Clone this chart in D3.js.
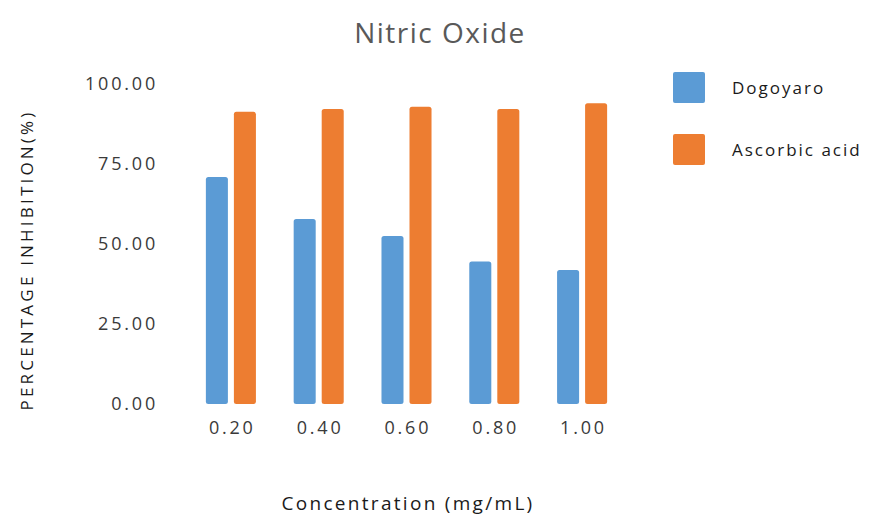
<!DOCTYPE html>
<html>
<head>
<meta charset="utf-8">
<script src="https://cdn.jsdelivr.net/npm/d3@7"></script>
<style>
  body { margin: 0; background: #fff; }
  text { font-family: "Open Sans", "Noto Sans", sans-serif; }
</style>
</head>
<body>
<svg id="chart" width="872" height="519"></svg>
<script>
const categories = ["0.20", "0.40", "0.60", "0.80", "1.00"];
const seriesNames = ["Dogoyaro", "Ascorbic acid"];
const dogoyaro = [70.9, 57.8, 52.5, 44.5, 41.9];
const ascorbic = [91.3, 92.2, 92.9, 92.2, 94.0];
const yTicks = [0, 25, 50, 75, 100];
const colors = ["#5B9BD5", "#ED7D31"];

const values = [dogoyaro, ascorbic];
const svg = d3.select("#chart");

const x = d3.scaleBand().domain(categories).range([187, 626])
  .paddingInner(0.43).paddingOuter(0.215);
const xs = d3.scaleBand().domain(seriesNames).range([0, x.bandwidth()])
  .paddingInner(0.214);
const y = d3.scaleLinear().domain([0, 100]).range([404, 84]);

// bars
categories.forEach((c, i) => {
  seriesNames.forEach((s, j) => {
    svg.append("rect")
      .attr("x", x(c) + xs(s))
      .attr("y", y(values[j][i]))
      .attr("width", xs.bandwidth())
      .attr("height", y(0) - y(values[j][i]))
      .attr("rx", 2.5)
      .attr("fill", colors[j]);
  });
});

// y axis
const yAxis = d3.axisLeft(y).tickValues(yTicks).tickSize(0).tickPadding(0)
  .tickFormat(d3.format(".2f"));
const gy = svg.append("g").attr("transform", "translate(158,0)").call(yAxis);
gy.select(".domain").remove();
gy.selectAll("text").attr("font-size", 18).attr("font-weight", 500)
  .attr("fill", "#3a3a3a").attr("letter-spacing", 2.8);

// x axis
const xAxis = d3.axisBottom(x).tickSize(0).tickPadding(0);
const gx = svg.append("g").attr("transform", "translate(1.4,421)").call(xAxis);
gx.select(".domain").remove();
gx.selectAll("text").attr("font-size", 18).attr("font-weight", 500)
  .attr("fill", "#3a3a3a").attr("letter-spacing", 2.8);

// title
svg.append("text").attr("x", 440).attr("y", 43).attr("text-anchor", "middle")
  .attr("font-size", 28).attr("fill", "#595959").attr("letter-spacing", 1.5)
  .text("Nitric Oxide");

// axis titles
svg.append("text").attr("transform", "translate(33,260) rotate(-90)")
  .attr("text-anchor", "middle").attr("font-size", 17).attr("font-weight", 500)
  .attr("fill", "#1a1a1a").attr("letter-spacing", 3.2)
  .text("PERCENTAGE INHIBITION(%)");
svg.append("text").attr("x", 408).attr("y", 510).attr("text-anchor", "middle")
  .attr("font-size", 19).attr("font-weight", 500).attr("fill", "#1a1a1a")
  .attr("letter-spacing", 2.3)
  .text("Concentration (mg/mL)");

// legend
const legend = svg.append("g");
seriesNames.forEach((s, j) => {
  legend.append("rect").attr("x", 673).attr("y", 72 + j * 62)
    .attr("width", 32).attr("height", 31).attr("rx", 2).attr("fill", colors[j]);
  legend.append("text").attr("x", 732).attr("y", 87 + j * 62)
    .attr("dominant-baseline", "central").attr("font-size", 17)
    .attr("font-weight", 500).attr("letter-spacing", 2)
    .attr("fill", "#1a1a1a").text(s);
});
</script>
</body>
</html>
